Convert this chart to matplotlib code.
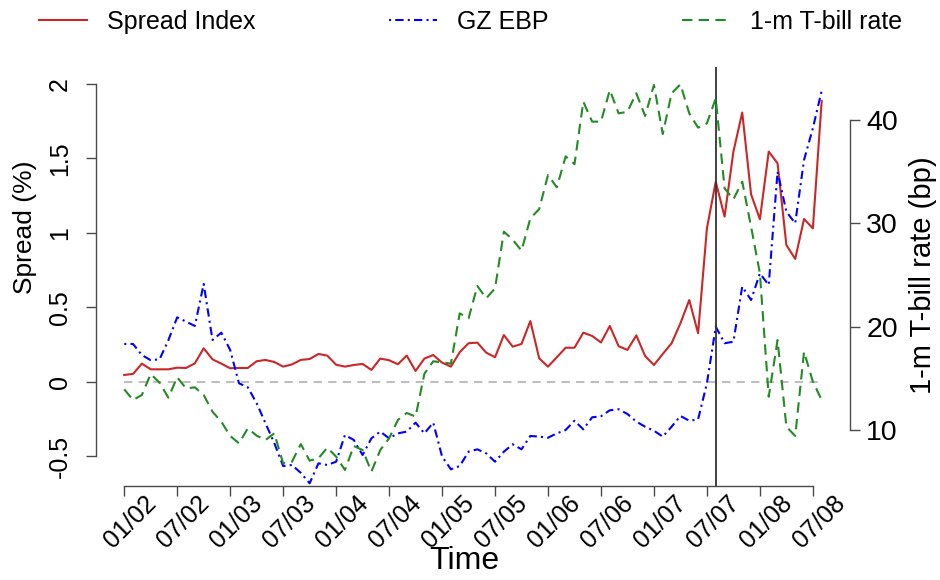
import numpy as np
import pandas as pd
import matplotlib
matplotlib.use("Agg")
import matplotlib.pyplot as plt
from matplotlib.lines import Line2D
from matplotlib.transforms import ScaledTranslation

# monthly observations, Jan 2002 .. Aug 2008
months = pd.date_range("2002-01-01", periods=80, freq="MS")

spread_index = [
    0.047, 0.054, 0.123, 0.085, 0.085, 0.085, 0.096, 0.094, 0.125, 0.226,
    0.152, 0.123, 0.092, 0.094, 0.094, 0.139, 0.148, 0.134, 0.103, 0.118,
    0.148, 0.154, 0.188, 0.177, 0.116, 0.103, 0.114, 0.121, 0.081, 0.157,
    0.146, 0.119, 0.177, 0.074, 0.157, 0.181, 0.130, 0.103, 0.200, 0.260,
    0.264, 0.197, 0.166, 0.315, 0.237, 0.255, 0.409, 0.159, 0.103, 0.166,
    0.230, 0.230, 0.331, 0.309, 0.265, 0.376, 0.240, 0.215, 0.313, 0.174,
    0.114, 0.188, 0.260, 0.394, 0.550, 0.327, 1.031, 1.344, 1.110, 1.546,
    1.808, 1.260, 1.092, 1.546, 1.468, 0.919, 0.826, 1.094, 1.031, 1.886,
]

gz_ebp = [
    0.255, 0.255, 0.181, 0.146, 0.152, 0.280, 0.434, 0.405, 0.376, 0.658,
    0.282, 0.331, 0.215, -0.009, -0.036, -0.143, -0.277, -0.410, -0.564, -0.557,
    -0.610, -0.680, -0.546, -0.557, -0.535, -0.356, -0.389, -0.490, -0.378, -0.333,
    -0.378, -0.345, -0.333, -0.273, -0.345, -0.273, -0.500, -0.586, -0.564, -0.468,
    -0.452, -0.479, -0.535, -0.468, -0.418, -0.452, -0.362, -0.367, -0.374, -0.345,
    -0.322, -0.260, -0.318, -0.237, -0.230, -0.190, -0.183, -0.215, -0.266, -0.300,
    -0.327, -0.367, -0.300, -0.228, -0.260, -0.251, -0.009, 0.371, 0.260, 0.270,
    0.640, 0.550, 0.729, 0.651, 1.411, 1.143, 1.065, 1.490, 1.703, 1.955,
]

tbill_1m = [
    13.94, 12.90, 13.39, 15.42, 14.58, 13.13, 15.10, 14.03, 14.13, 13.39,
    11.77, 10.80, 9.42, 8.71, 10.16, 9.45, 9.03, 9.68, 6.77, 6.93,
    8.64, 7.03, 7.26, 8.29, 7.42, 6.13, 8.45, 8.06, 5.97, 8.06,
    9.19, 10.97, 11.65, 11.29, 15.45, 16.65, 16.55, 16.42, 21.29, 20.81,
    23.94, 22.75, 23.70, 29.20, 28.42, 27.36, 30.49, 31.38, 34.68, 33.49,
    36.49, 35.73, 41.78, 39.85, 39.85, 42.91, 40.65, 40.81, 42.60, 40.40,
    43.40, 38.65, 42.60, 43.46, 40.65, 39.27, 39.69, 42.10, 33.40, 32.33,
    34.04, 29.68, 25.17, 13.22, 18.71, 10.32, 9.42, 17.58, 14.68, 12.90,
]

event_month = pd.Timestamp("2007-08-01")
left_ticks = [-0.5, 0, 0.5, 1, 1.5, 2]
left_labels = ["-0.5", "0", "0.5", "1", "1.5", "2"]
right_ticks = [10, 20, 30, 40]

plt.rcParams['font.family'] = ['Liberation Sans', 'DejaVu Sans']
axcol = "#4a4a4a"
red, blue, green = "#CD2626", "#0000FF", "#228B22"

x = np.arange(len(months))
tick_idx = x[::6]
tick_lab = [m.strftime("%m/%y") for m in months[::6]]
ev = months.get_loc(event_month)

fig = plt.figure(figsize=(9.4, 5.8), dpi=100)
ax = fig.add_axes([0.1021, 0.1621, 0.8021, 0.7224])
ax2 = ax.twinx()

ax.plot([x[0], x[-1]], [0, 0], color="#BEBEBE", lw=1.5, ls=(0, (4, 3)))
ax.plot(x, spread_index, color=red, lw=1.5)
ax.plot(x, gz_ebp, color=blue, lw=1.5, ls=(0, (1, 2, 4, 2)))
ax2.plot(x, tbill_1m, color=green, lw=1.5, ls=(0, (5, 3)))
ax.axvline(ev, color="#333333", lw=1.3)

ax.set_xlim(-3.2, 82.2)
ax.set_ylim(-0.698, 2.114)
ax2.set_ylim(4.58, 45.14)

for s in ["top", "right"]:
    ax.spines[s].set_visible(False)
for s in ["top", "left", "bottom"]:
    ax2.spines[s].set_visible(False)
ax.spines["left"].set_bounds(-0.5, 2)
ax.spines["bottom"].set_bounds(tick_idx[0], tick_idx[-1])
ax2.spines["right"].set_bounds(10, 40)
for sp in [ax.spines["left"], ax.spines["bottom"], ax2.spines["right"]]:
    sp.set_color(axcol)
    sp.set_linewidth(1.0)

# rotated month labels under the time axis
ax.set_xticks(tick_idx)
ax.set_xticklabels(tick_lab)
ax.tick_params(axis="x", length=7.2, width=1, color=axcol, pad=18.7, labelsize=18)
off = ScaledTranslation(6 / 100, 0, fig.dpi_scale_trans)
for lab in ax.get_xticklabels():
    lab.set_rotation(45)
    lab.set_ha("center")
    lab.set_va("center")
    lab.set_rotation_mode("anchor")
    lab.set_transform(lab.get_transform() + off)

ax.set_yticks(left_ticks)
ax.set_yticklabels(left_labels)
ax.tick_params(axis="y", length=7.2, width=1, color=axcol, pad=18.7, labelsize=18)
for lab in ax.get_yticklabels():
    lab.set_rotation(90)
    lab.set_ha("center")
    lab.set_va("center")

ax2.set_yticks(right_ticks)
ax2.tick_params(axis="y", length=7.2, width=1, color=axcol, pad=4.5, labelsize=20.5)

ax.set_xlabel("Time", fontsize=23, va="center")
ax.xaxis.set_label_coords(0.488, -0.179)
ax.set_ylabel("Spread (%)", fontsize=19, va="center")
ax.yaxis.set_label_coords(-0.0942, 0.618)
ax2.set_ylabel("1-m T-bill rate (bp)", fontsize=21, va="center")
ax2.yaxis.set_label_coords(1.0968, 0.5036)

handles = [
    Line2D([], [], color=red, lw=1.5),
    Line2D([], [], color=blue, lw=1.5, ls=(0, (1, 2, 4, 2))),
    Line2D([], [], color=green, lw=1.5, ls=(0, (5, 3))),
]
fig.legend(handles, ["Spread Index", "GZ EBP", "1-m T-bill rate"],
           loc="center", bbox_to_anchor=(0.0415, 0.93, 0.918, 0.065),
           mode="expand", ncol=3, frameon=False, fontsize=18,
           handlelength=1.9, handletextpad=0.8, borderpad=0, borderaxespad=0)

fig.savefig("out.png", dpi=100)
